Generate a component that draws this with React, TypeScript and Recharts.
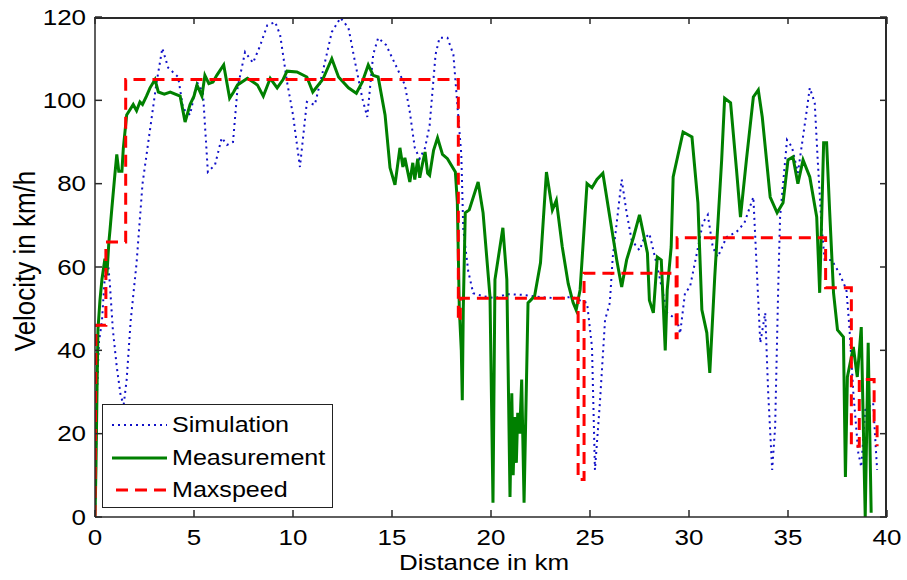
import React from 'react';
import { LineChart, Line, XAxis, YAxis, Legend } from 'recharts';

const xTicks = [0, 5, 10, 15, 20, 25, 30, 35, 40];
const yTicks = [0, 20, 40, 60, 80, 100, 120];

const seriesNames = ['Simulation', 'Measurement', 'Maxspeed'];

const simDist = [0, 0.1, 0.2, 0.35, 0.5, 0.62, 0.75, 0.9, 1.1, 1.3, 1.45, 1.6, 1.8, 2.1, 2.4, 2.78, 3.1, 3.4, 3.7, 4.2, 4.45, 4.8, 5.15, 5.45, 5.7, 6.06, 6.4, 6.67, 6.97, 7.2, 7.58, 7.98, 8.33, 8.7, 9.1, 9.35, 9.7, 10.0, 10.35, 10.7, 11.1, 11.5, 11.96, 12.4, 12.8, 13.1, 13.5, 13.75, 14.05, 14.3, 14.7, 15.25, 15.65, 15.9, 16.15, 16.4, 16.67, 16.9, 17.2, 17.4, 17.8, 18.1, 18.3, 18.5, 18.6, 18.85, 19.1, 19.6, 20.2, 20.8, 21.6, 22.5, 23.3, 24.1, 24.5, 24.85, 25.1, 25.25, 25.5, 25.76, 26.0, 26.15, 26.6, 26.85, 27.1, 27.5, 27.7, 28.0, 28.4, 28.9, 29.4, 29.55, 29.8, 30.05, 30.4, 30.7, 30.95, 31.2, 31.45, 31.9, 32.4, 32.8, 33.25, 33.4, 33.6, 33.85, 34.0, 34.2, 34.35, 34.5, 34.6, 34.95, 35.2, 35.5, 35.95, 36.1, 36.35, 36.5, 36.7, 36.85, 37.2, 37.6, 37.95, 38.1, 38.3, 38.55, 38.7, 38.9, 39.3, 39.5];
const simVel = [0, 30, 42, 47, 58, 63, 56, 45, 36, 29, 27, 33, 47, 61, 80, 93, 104, 112.5, 107.8, 105.6, 98, 96.5, 104.4, 102, 82.8, 84.5, 91, 89.3, 90, 103, 111.6, 109, 113, 118, 118.8, 115.7, 104.4, 96.5, 84, 99.6, 98.9, 106.8, 116.4, 119.8, 117.4, 110, 100.5, 96, 111, 115, 113.3, 107.8, 103.7, 97.2, 88.6, 86, 88.6, 94, 111, 115, 115, 111, 99, 87, 69, 59, 53.7, 53, 52.5, 53.5, 53.3, 52.8, 52.5, 52.8, 52, 51.4, 40.8, 11.3, 27.4, 47.3, 51.4, 62.4, 81, 73, 66.5, 64, 66.5, 68, 60, 49, 47.3, 44, 53.8, 55.2, 63.4, 70.6, 72.5, 64.8, 62.4, 67.2, 68.4, 70.6, 76.8, 61.7, 41.8, 49, 29.8, 11.3, 21.6, 53.8, 72, 90.5, 88.8, 82.6, 97.7, 103, 99.4, 85.7, 69.6, 61.7, 61.7, 58.5, 54.5, 45.6, 29.8, 15.4, 12, 25.7, 27.4, 11.3];

const measDist = [0, 0.05, 0.1, 0.15, 0.25, 0.35, 0.5, 0.6, 0.7, 0.76, 0.85, 1.0, 1.1, 1.2, 1.36, 1.43, 1.6, 1.93, 2.1, 2.27, 2.4, 2.6, 2.78, 3.03, 3.2, 3.5, 3.8, 4.3, 4.55, 4.8, 5.0, 5.15, 5.4, 5.55, 5.75, 5.96, 6.15, 6.5, 6.8, 7.0, 7.2, 7.7, 8.2, 8.5, 8.85, 9.2, 9.5, 9.7, 10.2, 10.7, 11.0, 11.5, 11.96, 12.3, 12.8, 13.2, 13.5, 13.8, 14.05, 14.3, 14.65, 14.9, 15.15, 15.4, 15.55, 15.65, 15.9, 16.05, 16.15, 16.3, 16.4, 16.55, 16.67, 16.8, 16.9, 17.1, 17.3, 17.55, 17.8, 18.2, 18.3, 18.4, 18.5, 18.55, 18.6, 18.7, 18.9, 19.35, 19.6, 19.95, 20.1, 20.2, 20.6, 20.8, 20.96, 21.05, 21.12, 21.2, 21.28, 21.35, 21.45, 21.55, 21.67, 21.87, 22.2, 22.5, 22.8, 23.1, 23.3, 23.6, 23.9, 24.15, 24.3, 24.5, 24.85, 25.1, 25.35, 25.65, 26.0, 26.35, 26.6, 26.85, 27.2, 27.5, 27.9, 28.0, 28.2, 28.4, 28.6, 28.8, 28.9, 29.1, 29.2, 29.7, 30.15, 30.45, 30.65, 30.9, 31.05, 31.3, 31.65, 31.8, 32.1, 32.4, 32.6, 32.9, 33.25, 33.5, 33.7, 34.1, 34.45, 34.75, 35.0, 35.25, 35.5, 35.76, 36.1, 36.45, 36.6, 36.8, 36.95, 37.1, 37.3, 37.5, 37.8, 37.9, 38.0, 38.3, 38.5, 38.7, 38.9, 39.05, 39.2];
const measVel = [0, 12, 30, 45, 52, 57, 62, 58, 66, 69, 74, 82, 87, 83, 83, 88.5, 96.5, 99, 97.5, 99.6, 99, 101, 103, 105, 102, 101.5, 102, 101, 94.8, 99, 101, 103.7, 101, 106, 104, 104.4, 106, 108.5, 100.5, 102, 103.7, 105.3, 103.7, 101, 105.3, 103, 105, 107, 106.8, 105.6, 102, 105, 110, 105.6, 103, 101.7, 104.4, 108.5, 106, 105.6, 96.5, 83.8, 79.7, 88.6, 84, 86.2, 80.4, 85, 81, 86, 81.4, 85, 87.6, 82.5, 82, 88, 91, 87, 86, 82.8, 75.6, 50, 40, 28, 50, 73, 73.7, 80.4, 73, 52.8, 3.4, 57, 69.4, 57, 4.8, 29.7, 10, 24, 13, 25, 20, 33, 3.4, 51.4, 53, 61, 82.8, 73.7, 76, 64.8, 56, 51.4, 49.7, 54.5, 80, 79, 81, 82.5, 72, 61.7, 55.2, 61.7, 67.2, 72.5, 63.4, 52, 49, 62.4, 61.7, 40, 54.5, 64.8, 81.6, 92.4, 91.2, 75.4, 49.7, 44.2, 34.6, 57.6, 85.7, 100.5, 99.4, 83.3, 72, 85.7, 100.8, 102.5, 96, 76.8, 73, 75.4, 85.7, 86.4, 80, 85.7, 81.6, 72, 53.8, 89.8, 89.8, 73.7, 53.8, 44.9, 43.2, 9.6, 33.6, 40.8, 33.6, 45.6, 0, 41.8, 1];

const maxDist = [0, 0.05, 0.55, 0.55, 1.55, 1.55, 18.35, 18.35, 18.45, 18.45, 24.4, 24.4, 24.7, 24.7, 29.35, 29.35, 29.4, 29.4, 36.9, 36.9, 38.2, 38.2, 38.6, 38.6, 39.35, 39.35, 39.5, 39.5];
const maxVel = [0, 46, 46, 66, 66, 105, 105, 47, 47, 52.5, 52.5, 9, 9, 58.5, 58.5, 43, 43, 67, 67, 55, 55, 17, 17, 33, 33, 23, 23, 17];

const zip = (xs: number[], ys: number[]) => xs.map((x, i) => ({ x, y: ys[i] }));
const simData = zip(simDist, simVel);
const measData = zip(measDist, measVel);
const maxData = zip(maxDist, maxVel);

const W = 907;
const H = 580;
const X_MAX = 40;
const Y_MAX = 120;
const M_TOP = 17;
const M_RIGHT = 20;
const Y_AXIS_W = 95;
const X_AXIS_H = 63;
const PLOT_L = Y_AXIS_W;
const PLOT_R = W - M_RIGHT;
const PLOT_T = M_TOP;
const PLOT_B = H - X_AXIS_H;

const FONT = '"Liberation Sans", Arial, Helvetica, sans-serif';
const SX = 1.18;
const AX = '#2a2a2a';
const TICK_LEN = 7;

const XTick = (props: any) => {
  const { x, y, payload } = props;
  return (
    <g transform={`translate(${x},${y}) scale(${SX},1)`}>
      <text x={0} y={0} textAnchor="middle" dominantBaseline="central" fontFamily={FONT} fontSize={22} fill="#000">
        {payload.value}
      </text>
    </g>
  );
};

const YTick = (props: any) => {
  const { x, y, payload } = props;
  return (
    <g transform={`translate(${x},${y}) scale(${SX},1)`}>
      <text x={0} y={0} textAnchor="end" dominantBaseline="central" fontFamily={FONT} fontSize={22} fill="#000">
        {payload.value}
      </text>
    </g>
  );
};

const XLabel = () => (
  <g transform={`translate(484,570) scale(${SX},1)`}>
    <text x={0} y={0} textAnchor="middle" fontFamily={FONT} fontSize={22} fill="#000">Distance in km</text>
  </g>
);

const YLabel = () => (
  <g transform={`translate(35,261) scale(1.17,1) rotate(-90)`}>
    <text x={0} y={0} textAnchor="middle" fontFamily={FONT} fontSize={26} fill="#000">Velocity in km/h</text>
  </g>
);

// Overlay: top/right frame of the axes box ("box on") and the legend box.
const Overlay = () => {
  const sx = (v: number) => PLOT_L + (v / X_MAX) * (PLOT_R - PLOT_L);
  const sy = (v: number) => PLOT_B - (v / Y_MAX) * (PLOT_B - PLOT_T);
  const LX = 102;
  const LY = 404;
  const rows = [21, 54, 86];
  return (
    <svg width={W} height={H} style={{ display: 'block', pointerEvents: 'none', position: 'absolute', left: 0, top: 0 }}>
      <path
        d={`M${PLOT_L},${PLOT_T + 1} H${PLOT_R - 1} V${PLOT_B}`}
        fill="none"
        stroke={AX}
        strokeWidth={2}
      />
      {xTicks.map((t) => (
        <path key={`tx${t}`} d={`M${sx(t)},${PLOT_T} V${PLOT_T + TICK_LEN}`} stroke={AX} strokeWidth={1.5} fill="none" />
      ))}
      {yTicks.map((t) => (
        <path key={`ty${t}`} d={`M${PLOT_R},${sy(t)} H${PLOT_R - TICK_LEN}`} stroke={AX} strokeWidth={1.5} fill="none" />
      ))}
      <g transform={`translate(${LX},${LY})`}>
        <rect x={0.5} y={0.5} width={230} height={103} fill="#fff" stroke="#222" strokeWidth={1} />
        <line x1={10} x2={65} y1={rows[0]} y2={rows[0]} stroke="#1010c8" strokeWidth={2} strokeDasharray="2 4" />
        <line x1={10} x2={65} y1={rows[1]} y2={rows[1]} stroke="#008000" strokeWidth={3} />
        <line x1={14} x2={65} y1={rows[2]} y2={rows[2]} stroke="#ff0000" strokeWidth={3} strokeDasharray="12 7" />
        {seriesNames.map((n, i) => (
          <g key={n} transform={`translate(70,${rows[i]}) scale(1.14,1)`}>
            <text x={0} y={0} dominantBaseline="central" fontFamily={FONT} fontSize={22} fill="#000">{n}</text>
          </g>
        ))}
      </g>
    </svg>
  );
};

export default function App() {
  return (
    <div style={{ position: 'absolute', left: 0, top: 0, width: W, height: H, background: '#fff' }}>
      <LineChart width={W} height={H} margin={{ top: M_TOP, right: M_RIGHT, bottom: 0, left: 0 }}>
        <XAxis
          dataKey="x"
          type="number"
          domain={[0, X_MAX]}
          ticks={xTicks}
          height={X_AXIS_H}
          tickSize={-TICK_LEN}
          tickMargin={27}
          tick={<XTick />}
          stroke={AX}
          tickLine={{ stroke: AX, strokeWidth: 1.5 }}
          axisLine={{ stroke: AX, strokeWidth: 1.5 }}
          allowDataOverflow
          label={{ content: () => <XLabel /> }}
        />
        <YAxis
          type="number"
          domain={[0, Y_MAX]}
          ticks={yTicks}
          width={Y_AXIS_W}
          tickSize={-TICK_LEN}
          tickMargin={16}
          tick={<YTick />}
          stroke={AX}
          tickLine={{ stroke: AX, strokeWidth: 1.5 }}
          axisLine={{ stroke: AX, strokeWidth: 1.5 }}
          allowDataOverflow
          label={{ content: () => <YLabel /> }}
        />
        <Line data={simData} dataKey="y" name="Simulation" type="linear" stroke="#1010c8" strokeWidth={2} strokeDasharray="2 4" dot={false} isAnimationActive={false} />
        <Line data={measData} dataKey="y" name="Measurement" type="linear" stroke="#008000" strokeWidth={3} dot={false} isAnimationActive={false} />
        <Line data={maxData} dataKey="y" name="Maxspeed" type="linear" stroke="#ff0000" strokeWidth={3} strokeDasharray="12 7" dot={false} isAnimationActive={false} />
        <Legend
          layout="horizontal"
          verticalAlign="middle"
          align="center"
          content={() => <Overlay />}
          wrapperStyle={{ position: 'absolute', left: 0, top: 0, width: W, height: H, pointerEvents: 'none' }}
        />
      </LineChart>
    </div>
  );
}
